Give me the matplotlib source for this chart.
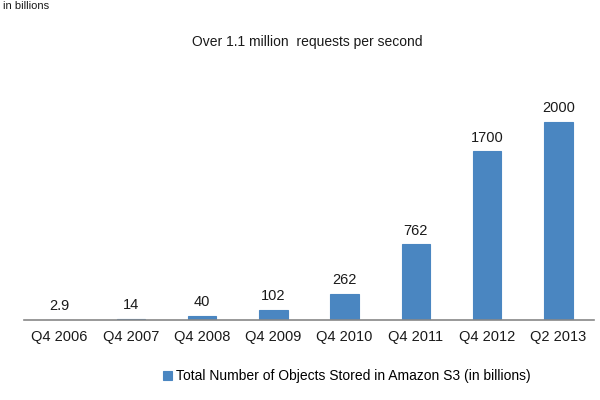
import matplotlib
matplotlib.use("Agg")
import matplotlib.pyplot as plt

categories = ["Q4 2006", "Q4 2007", "Q4 2008", "Q4 2009", "Q4 2010", "Q4 2011", "Q4 2012", "Q2 2013"]
values = [2.9, 14, 40, 102, 262, 762, 1700, 2000]
value_labels = ["2.9", "14", "40", "102", "262", "762", "1700", "2000"]

plt.rcParams['font.family'] = ['Liberation Sans', 'DejaVu Sans']
color = "#4A86C1"
text_color = "#1a1a1a"

fig = plt.figure(figsize=(6, 4), dpi=100)
ax = fig.add_axes([0.04, 0.2, 0.95, 0.575])
x = range(len(categories))
ax.bar(x, values, width=0.4, color=color, edgecolor=color, linewidth=0.8,
       label="Total Number of Objects Stored in Amazon S3 (in billions)")
for xi, v, lab in zip(x, values, value_labels):
    ax.text(xi, v + 70, lab, ha="center", va="bottom", fontsize=10.5, color=text_color)
ax.set_xlim(-0.5, len(categories) - 0.5)
ax.set_ylim(0, 2320)
ax.set_xticks(list(x))
ax.set_xticklabels(categories, fontsize=10.5, color=text_color)
ax.tick_params(axis="x", length=0, pad=7)
ax.set_yticks([])
for s in ["top", "right", "left"]:
    ax.spines[s].set_visible(False)
ax.spines["bottom"].set_color("#888888")
ax.spines["bottom"].set_linewidth(1.2)

fig.text(0.512, 0.895, "Over 1.1 million  requests per second", ha="center", va="center",
         fontsize=10, color=text_color)
fig.text(0.005, 0.998, "in billions", ha="left", va="top", fontsize=8, color=text_color)
fig.legend(loc="center", bbox_to_anchor=(0.578, 0.06), frameon=False, fontsize=10,
           handlelength=0.6, handleheight=0.6, handletextpad=0.3)
fig.savefig("out.png", dpi=100, facecolor="white")
